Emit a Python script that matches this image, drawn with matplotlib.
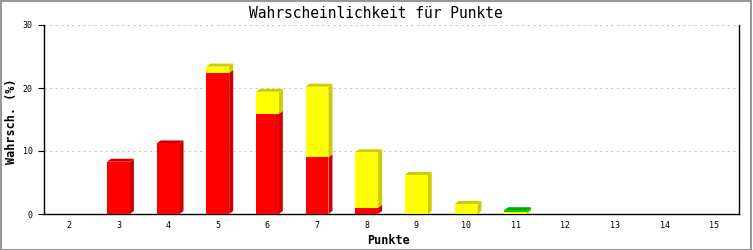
import matplotlib
matplotlib.use('Agg')
import matplotlib.pyplot as plt
from matplotlib.patches import Polygon, Rectangle

# Punkte (Augensumme) und Wahrscheinlichkeiten in %
punkte = [2, 3, 4, 5, 6, 7, 8, 9, 10, 11, 12, 13, 14, 15]
rot = [0, 8.3, 11.2, 22.4, 15.9, 9.0, 1.0, 0, 0, 0, 0, 0, 0, 0]
gelb = [0, 0, 0, 1.0, 3.5, 11.2, 8.8, 6.2, 1.6, 0.3, 0, 0, 0, 0]
gruen = [0, 0, 0, 0, 0, 0, 0, 0, 0, 0.3, 0, 0, 0, 0]

serien = [
    (rot, '#FF0000', '#CC0000'),
    (gelb, '#FFFF00', '#CCCC00'),
    (gruen, '#00CC00', '#00AA00'),
]

font = 'DejaVu Sans Mono'

fig = plt.figure(figsize=(7.53, 2.5), dpi=100)
fig.patch.set_facecolor('white')
ax = fig.add_axes([44 / 753, 1 - 214 / 250, 695 / 753, 189 / 250])

xmin, xmax = 1.5, 15.5
ymin, ymax = 0, 30
ax.set_xlim(xmin, xmax)
ax.set_ylim(ymin, ymax)

# 3D-Tiefe in Datenkoordinaten (ca. 4px nach rechts, 3px nach oben)
dx = 4 * (xmax - xmin) / 695
dy = 3 * (ymax - ymin) / 189
breite = 0.46

for i, p in enumerate(punkte):
    unten = 0
    segmente = []
    for werte, farbe, dunkel in serien:
        v = werte[i]
        if v <= 0:
            continue
        segmente.append((unten, unten + v, farbe, dunkel))
        unten += v
    for k, (b, t, farbe, dunkel) in enumerate(segmente):
        x0 = p - breite / 2
        x1 = p + breite / 2
        ax.bar(p, t - b, bottom=b, width=breite, color=farbe, linewidth=0, zorder=3)
        seite = Polygon([(x1, b), (x1 + dx, b + dy), (x1 + dx, t + dy), (x1, t)],
                        closed=True, facecolor=dunkel, edgecolor='none', zorder=2.5)
        ax.add_patch(seite)
        if k == len(segmente) - 1:
            deckel = Polygon([(x0, t), (x0 + dx, t + dy), (x1 + dx, t + dy), (x1, t)],
                             closed=True, facecolor=dunkel, edgecolor='none', zorder=2.5)
            ax.add_patch(deckel)

ax.set_yticks([0, 10, 20, 30])
ax.set_xticks(punkte)
ax.yaxis.grid(True, color='#C8C8C8', linestyle=(0, (2, 3)), linewidth=0.8, zorder=0)
ax.set_axisbelow(True)

ax.spines['top'].set_visible(False)
for s in ['left', 'bottom', 'right']:
    ax.spines[s].set_linewidth(1.0)
    ax.spines[s].set_color('black')

ax.tick_params(axis='y', length=4, width=0.8, pad=4, labelsize=6, direction='out')
ax.tick_params(axis='x', length=0, pad=5, labelsize=6)
for lab in ax.get_xticklabels() + ax.get_yticklabels():
    lab.set_fontfamily(font)

fig.text(376 / 753, 1 - 13 / 250, 'Wahrscheinlichkeit für Punkte', fontfamily=font,
         fontsize=10.5, ha='center', va='center')
fig.text(389 / 753, 1 - 240 / 250, 'Punkte', fontfamily=font, fontsize=8.5,
         fontweight='bold', ha='center', va='center')
fig.text(12 / 753, 1 - 121 / 250, 'Wahrsch. (%)', fontfamily=font, fontsize=8.5,
         fontweight='bold', ha='center', va='center', rotation=90)

# grauer Rahmen um das Bild
fig.patches.append(Rectangle((0.001, 0.002), 0.997, 0.995, transform=fig.transFigure,
                             fill=False, edgecolor='#999999', linewidth=1.5))

fig.savefig('out.png', dpi=100)
